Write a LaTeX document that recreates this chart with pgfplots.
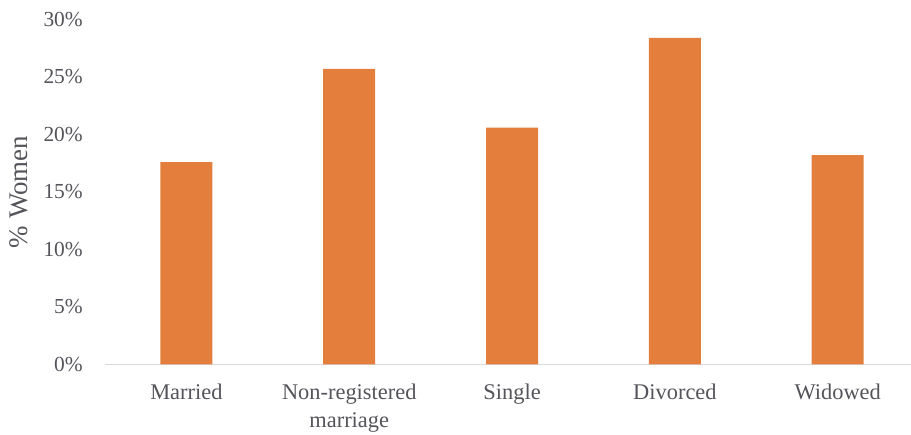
\documentclass[border=0pt]{standalone}
\usepackage{pgfplots}
\pgfplotsset{compat=1.18}
\usepackage{fontspec}
\setmainfont{Liberation Serif}
\definecolor{barorange}{RGB}{228,126,60}
\definecolor{txt}{RGB}{84,84,90}
\definecolor{axisgray}{RGB}{217,217,217}
\begin{document}
\begin{tikzpicture}[x=1bp,y=1bp]
\useasboundingbox (-105,-70.5) rectangle (806,364.5);
\begin{axis}[
  scale only axis, width=806bp, height=345bp,
  at={(0,0)}, anchor=south west,
  xmin=-0.5, xmax=4.45, ymin=0, ymax=30,
  axis x line*=bottom, axis y line*=left,
  y axis line style={draw=none},
  x axis line style={draw=axisgray, line width=1.2bp, -},
  xtick style={draw=none}, ytick style={draw=none},
  ybar, bar width=52bp,
  xtick={0,1,2,3,4},
  xticklabels={Married, Non-registered\\marriage, Single, Divorced, Widowed},
  ytick={0,5,...,30},
  yticklabel={\pgfmathprintnumber{\tick}\%},
  /pgf/number format/assume math mode=true,
  yticklabel style={font=\fontsize{21.5}{28}\selectfont, text=txt, anchor=east, inner sep=0pt, xshift=-22bp},
  xticklabel style={font=\fontsize{22.5}{28}\selectfont, text=txt, align=center, anchor=north, inner sep=0pt, yshift=-15bp},
  ylabel={\% Women},
  ylabel style={at={(axis description cs:-0.107,0.5)}, anchor=center, font=\fontsize{27}{30}\selectfont, text=txt},
]
\addplot[fill=barorange, draw=none] coordinates {(0,17.6)(1,25.7)(2,20.6)(3,28.4)(4,18.2)};
\end{axis}
\end{tikzpicture}
\end{document}
